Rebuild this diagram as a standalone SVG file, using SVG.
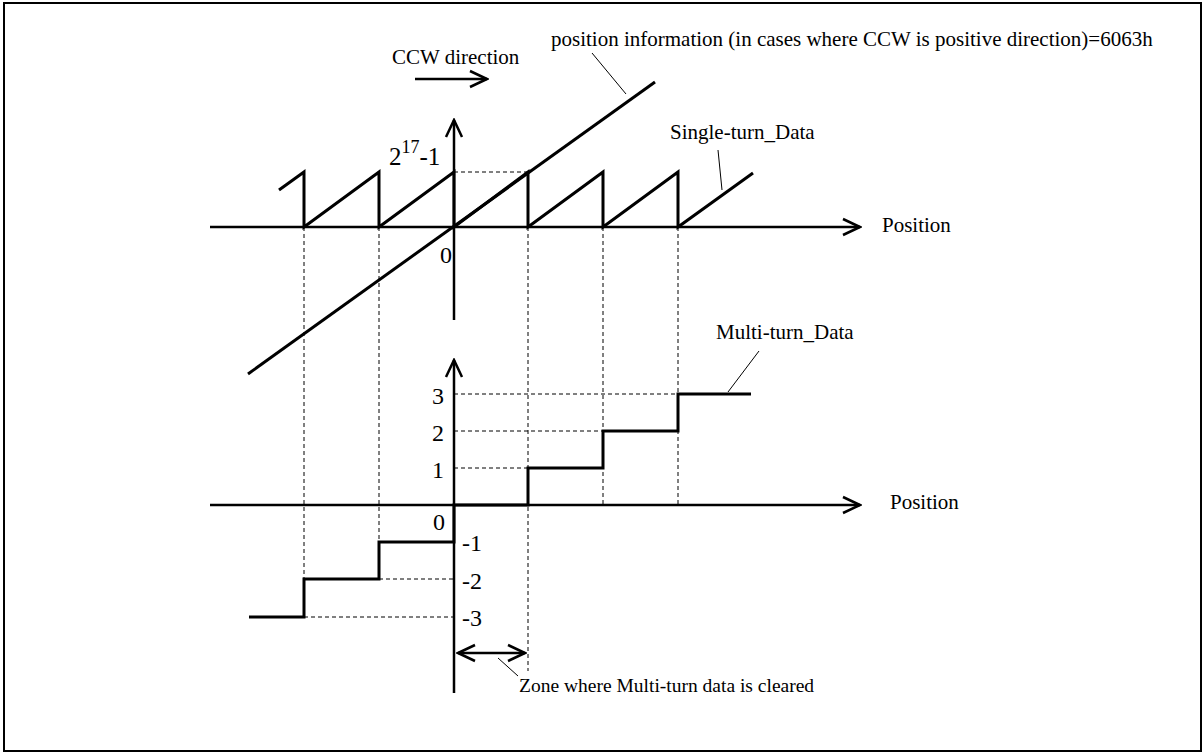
<svg xmlns="http://www.w3.org/2000/svg" width="1204" height="753" viewBox="0 0 1204 753">
<defs>
<style>
text{font-family:"Liberation Serif","Times New Roman",serif;fill:#000}
.lbl{font-size:21px}
.small{font-size:19.5px}
.num{font-size:24px}
.axis{stroke:#000;stroke-width:2.5;fill:none}
.thick{stroke:#000;stroke-width:3;fill:none}
.dash{stroke:#000;stroke-width:1;stroke-dasharray:4,3;fill:none}
.lead{stroke:#000;stroke-width:1;fill:none}
</style>
<marker id="ah" viewBox="0 0 20 20" refX="18" refY="10" markerWidth="20" markerHeight="20" markerUnits="userSpaceOnUse" orient="auto-start-reverse">
<path d="M1,2 L18,10 L1,18" fill="none" stroke="#000" stroke-width="2.5"/>
</marker>
</defs>
<rect x="4" y="3" width="1197" height="748" fill="#fff" stroke="#000" stroke-width="2"/>

<g id="connectors">
<path class="dash" d="M304,227 V579 M379,227 V542 M528,227 V671 M603,227 V505 M678,227 V505"/>
<path class="dash" d="M454,172 H528 M454,394 H678 M454,431 H603 M454,468 H528 M379,579 H454 M304,617 H454"/>
<path class="lead" d="M592,53 L626,94"/>
<path class="lead" d="M718,150 L722,190"/>
<path class="lead" d="M759,351 L728,392"/>
<path class="lead" d="M498,658 L518,676"/>
</g>

<g id="ccw-arrow">
<line class="axis" x1="415" y1="79" x2="487" y2="79" marker-end="url(#ah)"/>
<text class="lbl" x="392" y="64">CCW direction</text>
</g>

<g id="position-info-label">
<text class="lbl" x="551" y="46">position information (in cases where CCW is positive direction)=6063h</text>
</g>

<g id="top-axes">
<line class="axis" x1="210" y1="227" x2="860" y2="227" marker-end="url(#ah)"/>
<line class="axis" x1="454" y1="320" x2="454" y2="120" marker-end="url(#ah)"/>
<text class="lbl" x="882" y="232">Position</text>
<text class="num" x="452" y="263" text-anchor="end">0</text>
<text font-size="25" x="389" y="165">2<tspan font-size="18" dy="-12">17</tspan><tspan dy="12">-1</tspan></text>
</g>

<g id="position-line">
<line class="thick" x1="248" y1="374" x2="655" y2="82"/>
</g>

<g id="single-turn">
<path class="thick" d="M279,190 L304,172 V227 L379,172 V227 L454,172 V227 L528,172 V227 L603,172 V227 L678,172 V227 L753,173"/>
<text class="lbl" x="670" y="139">Single-turn_Data</text>
</g>

<g id="bottom-axes">
<line class="axis" x1="210" y1="505" x2="860" y2="505" marker-end="url(#ah)"/>
<line class="axis" x1="454" y1="693" x2="454" y2="360" marker-end="url(#ah)"/>
<text class="lbl" x="890" y="509">Position</text>
<text class="num" x="444" y="404" text-anchor="end">3</text>
<text class="num" x="444" y="441" text-anchor="end">2</text>
<text class="num" x="444" y="478" text-anchor="end">1</text>
<text class="num" x="445" y="530" text-anchor="end">0</text>
<text class="num" x="462" y="551">-1</text>
<text class="num" x="462" y="589">-2</text>
<text class="num" x="462" y="626">-3</text>
</g>

<g id="multi-turn">
<path class="thick" d="M249,617 H304 V579 H379 V542 H454 V505 H528 V468 H603 V431 H678 V394 H751"/>
<text class="lbl" x="716" y="339">Multi-turn_Data</text>
</g>

<g id="clear-zone">
<line class="axis" x1="458" y1="653" x2="525" y2="653" marker-start="url(#ah)" marker-end="url(#ah)"/>
<text class="small" x="519" y="692">Zone where Multi-turn data is cleared</text>
</g>
</svg>
